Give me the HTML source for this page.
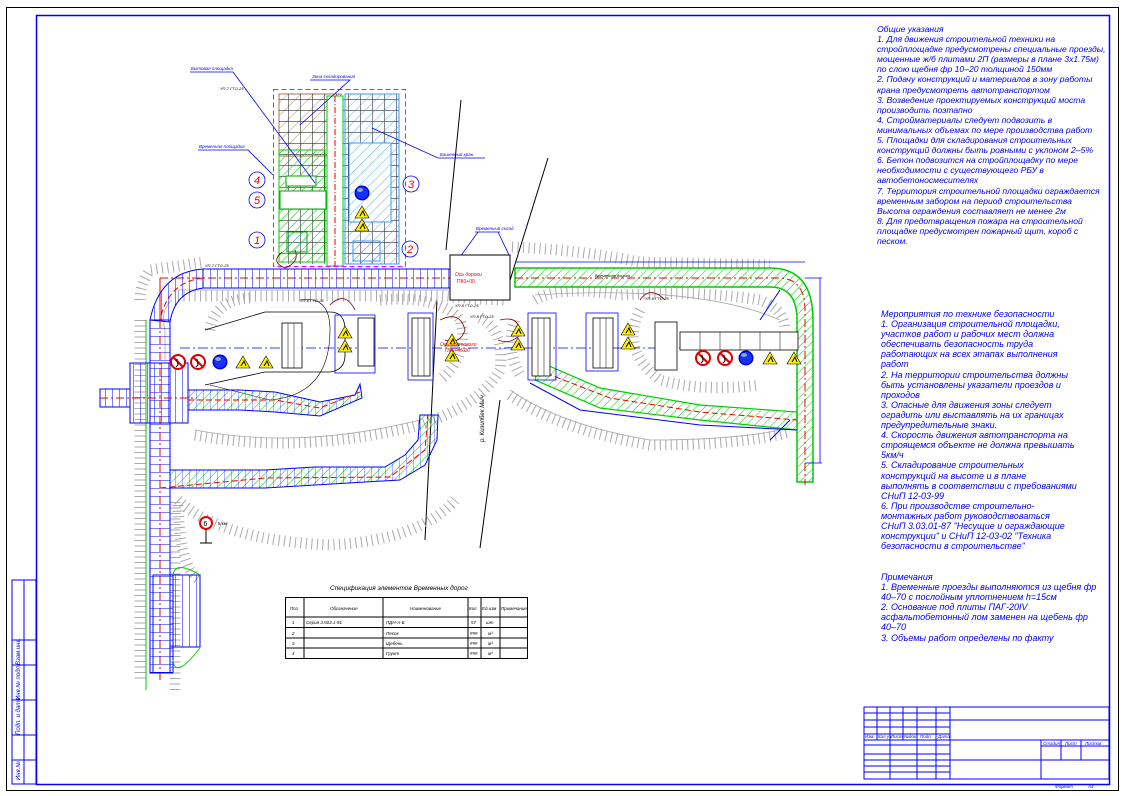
<!DOCTYPE html>
<html><head><meta charset="utf-8">
<style>
html,body{margin:0;padding:0;background:#fff;}
#w{position:relative;width:1125px;height:796px;overflow:hidden;background:#fff;font-family:"Liberation Sans",sans-serif;}
.t{position:absolute;color:#0000ee;font-style:italic;font-size:9px;line-height:10.1px;white-space:nowrap;}
svg{position:absolute;left:0;top:0;}
</style></head><body><div id="w">
<svg width="1125" height="796" viewBox="0 0 1125 796">
<defs>
<pattern id="gh" width="6" height="6" patternUnits="userSpaceOnUse" patternTransform="rotate(45)"><line x1="0" y1="0" x2="0" y2="6" stroke="#00cc00" stroke-width="1"/></pattern>
<pattern id="bh" width="7" height="7" patternUnits="userSpaceOnUse" patternTransform="rotate(45)"><line x1="0" y1="0" x2="0" y2="7" stroke="#3399ff" stroke-width="0.8"/></pattern>
<pattern id="brh" width="9" height="9" patternUnits="userSpaceOnUse" patternTransform="rotate(45)"><line x1="0" y1="0" x2="0" y2="9" stroke="#a07850" stroke-width="0.8"/></pattern>
<pattern id="bv" width="7" height="10" patternUnits="userSpaceOnUse"><line x1="0" y1="0" x2="0" y2="10" stroke="#0000ff" stroke-width="1"/></pattern>
<pattern id="bhz" width="10" height="8" patternUnits="userSpaceOnUse"><line x1="0" y1="0" x2="10" y2="0" stroke="#0000ff" stroke-width="1"/></pattern>
<pattern id="grid" width="12" height="11" patternUnits="userSpaceOnUse"><path d="M0 0H12M0 0V11" stroke="#000" stroke-width="1.2" fill="none"/></pattern>
<g id="warn"><polygon points="0,-6 7,6 -7,6" fill="#ffee00" stroke="#000" stroke-width="0.6"/><path d="M-2 4 L1 -1 L3 4" stroke="#000" stroke-width="1" fill="none"/></g>
<g id="nosign"><circle r="7" fill="#fff" stroke="#dd0000" stroke-width="2"/><line x1="-5" y1="-5" x2="5" y2="5" stroke="#dd0000" stroke-width="2"/><path d="M-1 -3 L0 3 L-2 5" stroke="#000" fill="none"/></g>
<g id="blue"><circle r="7.5" fill="#0000cc"/><circle r="6" fill="#1530ff"/><ellipse cx="-2" cy="-3" rx="3" ry="2" fill="#8ab"/></g>
</defs>
<rect x="6.5" y="7.5" width="1112" height="783" fill="none" stroke="#000" stroke-width="1"/>
<rect x="36.5" y="15.5" width="1073" height="769" fill="none" stroke="#0000ff" stroke-width="1.5"/>
<g stroke="#0000ff" stroke-width="1" fill="none">
<rect x="12" y="580" width="24" height="204"/>
<line x1="24" y1="580" x2="24" y2="784"/>
<line x1="12" y1="640" x2="36" y2="640"/><line x1="12" y1="665" x2="36" y2="665"/><line x1="12" y1="700" x2="36" y2="700"/><line x1="12" y1="735" x2="36" y2="735"/><line x1="12" y1="760" x2="36" y2="760"/>
</g>
<g font-size="6" fill="#0000ff" font-style="italic" font-family="Liberation Sans">
<text transform="translate(20,665) rotate(-90)">Взам.инв.</text>
<text transform="translate(20,700) rotate(-90)">Инв.№ подл.</text>
<text transform="translate(20,735) rotate(-90)">Подп. и дата</text>
<text transform="translate(20,780) rotate(-90)">Инв.№</text>
</g>
<g stroke="#0000ff" stroke-width="1" fill="none">
<rect x="864" y="707" width="245" height="72"/>
<line x1="864" y1="713" x2="950" y2="713"/><line x1="864" y1="720" x2="1109" y2="720"/><line x1="864" y1="727" x2="950" y2="727"/><line x1="864" y1="734" x2="950" y2="734"/><line x1="864" y1="740" x2="1109" y2="740"/>
<line x1="864" y1="745" x2="950" y2="745"/><line x1="864" y1="754" x2="950" y2="754"/><line x1="864" y1="760" x2="1109" y2="760"/><line x1="864" y1="766" x2="950" y2="766"/><line x1="864" y1="772" x2="950" y2="772"/>
<line x1="877" y1="707" x2="877" y2="740"/><line x1="890" y1="707" x2="890" y2="779"/><line x1="903" y1="707" x2="903" y2="740"/><line x1="917" y1="707" x2="917" y2="779"/><line x1="936" y1="707" x2="936" y2="779"/><line x1="950" y1="707" x2="950" y2="779"/>
<line x1="1041" y1="740" x2="1041" y2="779"/><line x1="1061" y1="740" x2="1061" y2="760"/><line x1="1081" y1="740" x2="1081" y2="760"/><line x1="1041" y1="746" x2="1109" y2="746"/>
</g>
<g font-size="4.5" fill="#0000ff" font-style="italic" font-family="Liberation Sans">
<text x="865" y="738">Изм.</text><text x="878" y="738">Кол.уч</text><text x="891" y="738">Лист</text><text x="904" y="738">№док</text><text x="920" y="738">Подп.</text><text x="938" y="738">Дата</text>
<text x="1043" y="745">Стадия</text><text x="1065" y="745">Лист</text><text x="1085" y="745">Листов</text>
<text x="1055" y="788">Формат</text><text x="1088" y="788">А4</text>
</g>
<g stroke="#000" stroke-width="1">
<line x1="461" y1="100" x2="446" y2="250"/><line x1="437" y1="300" x2="425" y2="540"/>
<line x1="548" y1="158" x2="507" y2="290"/><line x1="500" y1="400" x2="480" y2="548"/>
</g>
<g fill="none" stroke="#aaa" stroke-width="11" stroke-dasharray="1,4.5">
<path d="M178 296 H440 Q490 300 505 300"/>
<path d="M210 330 Q215 300 250 298"/>
<path d="M195 435 Q300 455 420 425 Q480 405 500 370 Q505 330 480 318"/>
<path d="M178 500 Q220 540 330 545 Q420 540 455 500"/>
<path d="M178 505 Q180 570 200 580" />
<path d="M510 395 Q560 430 650 445 Q740 445 790 432"/>
<path d="M535 300 Q560 285 620 295 Q700 290 760 300 Q785 310 785 330"/>
<path d="M640 310 Q620 350 660 380 Q700 392 760 385"/>
<path d="M512 247 Q580 250 640 262 L770 265"/>
<path d="M380 300 Q440 295 460 320 Q470 355 440 380"/>
<path d="M515 320 Q505 350 520 375"/>
<path d="M140 300 Q140 285 150 270 L205 262"/>
<path d="M140 320 V680"/><path d="M175 690 V500"/>
</g>
<g fill="none" stroke="#aaa" stroke-width="0.8">
<path d="M172 300 Q160 310 165 330 V360"/><path d="M195 430 Q300 450 420 420"/><path d="M510 390 Q560 425 650 440 Q740 440 790 428"/>
<path d="M178 290 H505"/><path d="M535 295 Q700 285 780 320"/>
</g>
<path d="M205 330 L265 312 H330 Q345 312 345 330 V355 Q345 370 330 372 H265 L205 385" fill="none" stroke="#000" stroke-width="0.8"/>
<path d="M300 300 Q330 295 330 330 Q330 395 270 400 L210 385" fill="none" stroke="#000" stroke-width="0.6"/>
<rect x="279" y="94" width="62" height="62" fill="url(#brh)" stroke="#a07850"/>
<rect x="279" y="94" width="120" height="170" fill="url(#grid)" opacity="0.8"/>
<rect x="279" y="150" width="46" height="112" fill="url(#gh)" stroke="#00cc00"/>
<rect x="345" y="94" width="54" height="170" fill="url(#bh)" stroke="#3399ff"/>
<rect x="349" y="143" width="42" height="79" fill="#fff" stroke="#3399ff"/>
<rect x="349" y="143" width="42" height="79" fill="url(#bh)"/>
<rect x="353" y="241" width="27" height="20" fill="url(#bh)" stroke="#3399ff"/>
<rect x="327" y="96" width="16" height="170" fill="#fff" stroke="#00cc00"/>
<line x1="335" y1="96" x2="335" y2="266" stroke="#e00" stroke-dasharray="6,2,1,2"/>
<rect x="280" y="191" width="46" height="18" fill="#fff" stroke="#00aa00"/>
<rect x="286" y="176" width="30" height="10" fill="#fff" stroke="#00aa00"/>
<rect x="287" y="232" width="20" height="20" fill="url(#bh)" stroke="#00aa00"/>
<rect x="273.5" y="89.5" width="132" height="177" fill="none" stroke="#ff00ff" stroke-dasharray="5,3"/>
<use href="#blue" x="362" y="193"/>
<use href="#warn" x="362" y="212"/><use href="#warn" x="362" y="225"/>
<g fill="none" stroke="#0000ff" stroke-width="0.8">
<circle cx="257" cy="180" r="8"/><circle cx="257" cy="200" r="8"/><circle cx="411" cy="184" r="8"/><circle cx="257" cy="240" r="8"/><circle cx="410" cy="249" r="8"/>
<path d="M190 72 H233 L315 183"/><path d="M310 80 H350 L300 125"/><path d="M198 150 H248 L273 175"/><path d="M372 128 L438 158 H485"/><path d="M475 232 H500 M478 232 L460 257 M498 232 L510 257"/>
</g>
<g font-size="11" fill="#e00" font-family="Liberation Sans" font-style="italic" text-anchor="middle">
<text x="257" y="184">4</text><text x="257" y="204">5</text><text x="411" y="188">3</text><text x="257" y="244">1</text><text x="410" y="253">2</text>
</g>
<g font-size="4.5" fill="#0000ff" font-style="italic" font-family="Liberation Sans">
<text x="191" y="70">Бытовая площадка</text><text x="312" y="78">Зона складирования</text><text x="199" y="148">Временная площадка</text><text x="440" y="156">Башенный кран</text><text x="476" y="230">Временный склад</text>
</g>
<rect x="203" y="269" width="247" height="19" fill="url(#bv)" stroke="#0000ff"/>
<line x1="160" y1="278" x2="505" y2="278" stroke="#e00" stroke-dasharray="8,3,2,3"/>
<path d="M160 278 V320" stroke="#e00" fill="none"/>
<rect x="450" y="255" width="60" height="45" fill="#fff" stroke="#000"/>
<text x="455" y="276" font-size="5" fill="#e00" font-family="Liberation Sans" font-style="italic">Ось дороги</text><text x="457" y="283" font-size="5" fill="#e00" font-family="Liberation Sans">ПК0+00</text>
<path d="M203 269 Q160 272 150 320 L170 322 Q175 292 203 288Z" fill="url(#bv)" stroke="#0000ff"/>
<path d="M203 278 Q168 282 160 320" fill="none" stroke="#e00" stroke-dasharray="6,3"/>
<rect x="150" y="320" width="20" height="353" fill="url(#bhz)" stroke="#0000ff"/>
<line x1="160" y1="320" x2="160" y2="680" stroke="#e00" stroke-dasharray="8,3,2,3"/>
<rect x="153" y="575" width="20" height="98" fill="url(#bhz)" stroke="#0000ff"/>
<rect x="170" y="575" width="30" height="72" fill="url(#bv)" stroke="#0000ff"/>
<path d="M173 575 Q175 560 200 575 M146 320 V690 M173 660 Q175 680 200 648" fill="none" stroke="#00cc00"/>
<rect x="130" y="363" width="58" height="60" fill="url(#bv)" stroke="#0000ff"/>
<rect x="100" y="389" width="30" height="18" fill="url(#bv)" stroke="#0000ff"/>
<line x1="100" y1="398" x2="195" y2="398" stroke="#e00" stroke-dasharray="8,3,2,3"/>
<path d="M188 390 H240 L275 392 L320 402 L355 395 L360 384 L362 398 L320 416 L275 412 L240 410 H188Z" fill="url(#gh)" stroke="#0000ff"/>
<path d="M188 390 H240 L275 392 L320 402 L355 395 L360 384 L362 398 L320 416 L275 412 L240 410 H188Z" fill="url(#bv)" opacity="0.6"/>
<path d="M188 400 H275 L320 408 L360 392" fill="none" stroke="#e00" stroke-dasharray="6,3"/>
<path d="M170 470 H265 L315 467 H385 L405 455 L418 440 L420 415 L438 415 L437 440 L425 465 L400 480 L315 485 L265 488 H170Z" fill="url(#gh)" stroke="#0000ff"/>
<path d="M170 470 H265 L315 467 H385 L405 455 L418 440 L420 415 L438 415 L437 440 L425 465 L400 480 L315 485 L265 488 H170Z" fill="url(#bv)" opacity="0.6"/>
<path d="M160 488 L265 478 L390 477 L425 450 L428 415" fill="none" stroke="#e00" stroke-dasharray="6,3"/>
<path d="M515 268 H770 Q813 268 813 320 V482 H797 V320 Q797 287 770 287 H515Z" fill="url(#gh)" stroke="#00cc00" stroke-width="1.5"/>
<path d="M515 278 H780 Q805 279 805 310 V485" fill="none" stroke="#e00" stroke-dasharray="8,3,2,3"/>
<path d="M540 362 L600 388 L700 405 L797 412 L797 430 L700 420 L600 408 L535 380Z" fill="url(#gh)" stroke="#00cc00" stroke-width="1.2"/>
<path d="M538 370 L610 398 L700 412 L797 420" fill="none" stroke="#e00" stroke-dasharray="6,3"/>
<path d="M530 383 L580 410 L700 425 L797 430" fill="none" stroke="#0000ff"/>
<path d="M515 262 H805 M820 278 V463 M805 278 H822 M805 463 H822" fill="none" stroke="#0000ff" stroke-width="0.8"/>
<path d="M780 290 L760 320 M790 420 L770 440" stroke="#0000ff" fill="none"/>
<line x1="180" y1="348" x2="715" y2="348" stroke="#0000ff" stroke-dasharray="10,3,2,3" stroke-width="0.8"/>
<g stroke="#000" stroke-width="0.8" fill="#fff">
<rect x="282" y="323" width="20" height="45"/><rect x="358" y="318" width="16" height="48"/><rect x="412" y="318" width="18" height="58"/><rect x="532" y="318" width="18" height="58"/><rect x="593" y="318" width="20" height="50"/><rect x="655" y="322" width="22" height="48"/><rect x="680" y="332" width="118" height="18"/>
</g>
<g stroke="#000" stroke-width="0.5"><path d="M288 323V368M294 323V368M418 318V376M424 318V376M538 318V376M544 318V376M600 318V368M606 318V368M700 332V350M720 332V350M740 332V350M760 332V350M780 332V350"/></g>
<g stroke="#0000ff" fill="none" stroke-width="0.8"><rect x="335" y="315" width="40" height="58"/><rect x="408" y="313" width="25" height="67"/><rect x="528" y="313" width="28" height="67"/><rect x="586" y="313" width="32" height="58"/></g>
<g stroke="#800000" fill="none" stroke-width="0.8"><path d="M282 252 Q270 262 285 268 Q300 262 295 250"/><path d="M330 305 Q345 290 355 310"/><path d="M440 320 Q460 310 465 330 Q460 345 445 340"/><path d="M500 320 Q520 315 520 335 Q510 345 498 340"/><path d="M640 300 Q650 285 665 300"/></g>
<use href="#nosign" x="178" y="362"/><use href="#nosign" x="198" y="362"/><use href="#blue" x="220" y="362"/><use href="#warn" x="243" y="362"/><use href="#warn" x="266" y="362"/>
<use href="#warn" x="345" y="332"/><use href="#warn" x="345" y="346"/><use href="#warn" x="452" y="340"/><use href="#warn" x="452" y="355"/><use href="#warn" x="518" y="330"/><use href="#warn" x="518" y="344"/><use href="#warn" x="628" y="329"/><use href="#warn" x="628" y="343"/>
<use href="#nosign" x="703" y="358"/><use href="#nosign" x="725" y="358"/><use href="#blue" x="746" y="358"/><use href="#warn" x="770" y="358"/><use href="#warn" x="794" y="358"/>
<g fill="#e00" font-size="5" font-family="Liberation Sans" font-style="italic"><text x="440" y="346">Ось мостового</text><text x="445" y="352">ПК0+45.00</text></g>
<text transform="translate(484,442) rotate(-90)" font-size="6" fill="#000" font-family="Liberation Sans" font-style="italic">р. Кизилбек Мыч</text>
<g font-size="4" fill="#000" font-family="Liberation Sans" font-style="italic"><text x="220" y="90">УП-7 ГТО-25</text><text x="205" y="267">УП-7 ГТО-25</text><text x="300" y="302">УП-8 ГТО-25</text><text x="455" y="307">УП-8 ГТО-25</text><text x="470" y="318">УП-8 ГТО-25</text><text x="645" y="300">УП-8 ГТО-25</text><text x="595" y="277">Временная дорога</text></g>
<circle cx="206" cy="523" r="6" fill="#fff" stroke="#e00" stroke-width="2"/><text x="203.5" y="526" font-size="7" fill="#000" font-family="Liberation Sans">6</text><line x1="206" y1="529" x2="206" y2="543" stroke="#000"/><line x1="200" y1="543" x2="212" y2="543" stroke="#000"/>
<text x="218" y="525" font-size="4.5" fill="#000" font-family="Liberation Sans">5 км</text>
<text x="330" y="590" font-size="6.5" fill="#000" font-style="italic" font-family="Liberation Sans">Спецификация элементов Временных дорог</text>
<g stroke="#000" stroke-width="1" fill="none">
<rect x="285.5" y="597.5" width="242" height="61"/>
<line x1="285" y1="617" x2="528" y2="617"/><line x1="285" y1="627.5" x2="528" y2="627.5"/><line x1="285" y1="638" x2="528" y2="638"/><line x1="285" y1="648" x2="528" y2="648"/>
<line x1="304" y1="598" x2="304" y2="658"/><line x1="383" y1="598" x2="383" y2="658"/><line x1="468" y1="598" x2="468" y2="658"/><line x1="481" y1="598" x2="481" y2="658"/><line x1="500" y1="598" x2="500" y2="658"/>
</g>
<g font-size="4.5" fill="#000" font-style="italic" font-family="Liberation Sans">
<text x="290" y="610">Поз</text><text x="330" y="610">Обозначение</text><text x="410" y="610">Наименование</text><text x="469" y="610">Кол</text><text x="482" y="610">Ед.изм</text><text x="501" y="610">Примечание</text>
<text x="292" y="624">1</text><text x="306" y="624">Серия 3.503.1-91</text><text x="386" y="624">ПДН-А-Б</text><text x="471" y="624">57</text><text x="486" y="624">шт</text>
<text x="292" y="635">2</text><text x="386" y="635">Песок</text><text x="470" y="635">###</text><text x="488" y="635">м³</text>
<text x="292" y="645">3</text><text x="386" y="645">Щебень</text><text x="470" y="645">###</text><text x="488" y="645">м³</text>
<text x="292" y="655">4</text><text x="386" y="655">Грунт</text><text x="470" y="655">###</text><text x="488" y="655">м³</text>
</g>
</svg>
<div class="t" style="left:877px;top:24px;font-size:8.6px;">Общие указания<br>1. Для движения строительной техники на<br>стройплощадке предусмотрены специальные проезды,<br>мощенные ж/б плитами 2П (размеры в плане 3х1.75м)<br>по слою щебня фр 10–20 толщиной 150мм<br>2. Подачу конструкций и материалов в зону работы<br>крана предусмотреть автотранспортом<br>3. Возведение проектируемых конструкций моста<br>производить поэтапно<br>4. Стройматериалы следует подвозить в<br>минимальных объемах по мере производства работ<br>5. Площадки для складирования строительных<br>конструкций должны быть ровными с уклоном 2–5%<br>6. Бетон подвозится на стройплощадку по мере<br>необходимости с существующего РБУ в<br>автобетоносмесителях<br>7. Территория строительной площадки ограждается<br>временным забором на период строительства<br>Высота ограждения составляет не менее 2м<br>8. Для предотвращения пожара на строительной<br>площадке предусмотрен пожарный щит, короб с<br>песком.</div>
<div class="t" style="left:881px;top:309px;">Мероприятия по технике безопасности<br>1. Организация строительной площадки,<br>участков работ и рабочих мест должна<br>обеспечивать безопасность труда<br>работающих на всех этапах выполнения<br>работ<br>2. На территории строительства должны<br>быть установлены указатели проездов и<br>проходов<br>3. Опасные для движения зоны следует<br>оградить или выставлять на их границах<br>предупредительные знаки.<br>4. Скорость движения автотранспорта на<br>строящемся объекте не должна превышать<br>5км/ч<br>5. Складирование строительных<br>конструкций на высоте и в плане<br>выполнять в соответствии с требованиями<br>СНиП 12-03-99<br>6. При производстве строительно-<br>монтажных работ руководствоваться<br>СНиП 3.03.01-87 "Несущие и ограждающие<br>конструкции" и СНиП 12-03-02 "Техника<br>безопасности в строительстве"</div>
<div class="t" style="left:881px;top:572px;">Примечания<br>1. Временные проезды выполняются из щебня фр<br>40–70 с послойным уплотнением h=15см<br>2. Основание под плиты ПАГ-20IV<br>асфальтобетонный лом заменен на щебень фр<br>40–70<br>3. Объемы работ определены по факту</div>
</div></body></html>
